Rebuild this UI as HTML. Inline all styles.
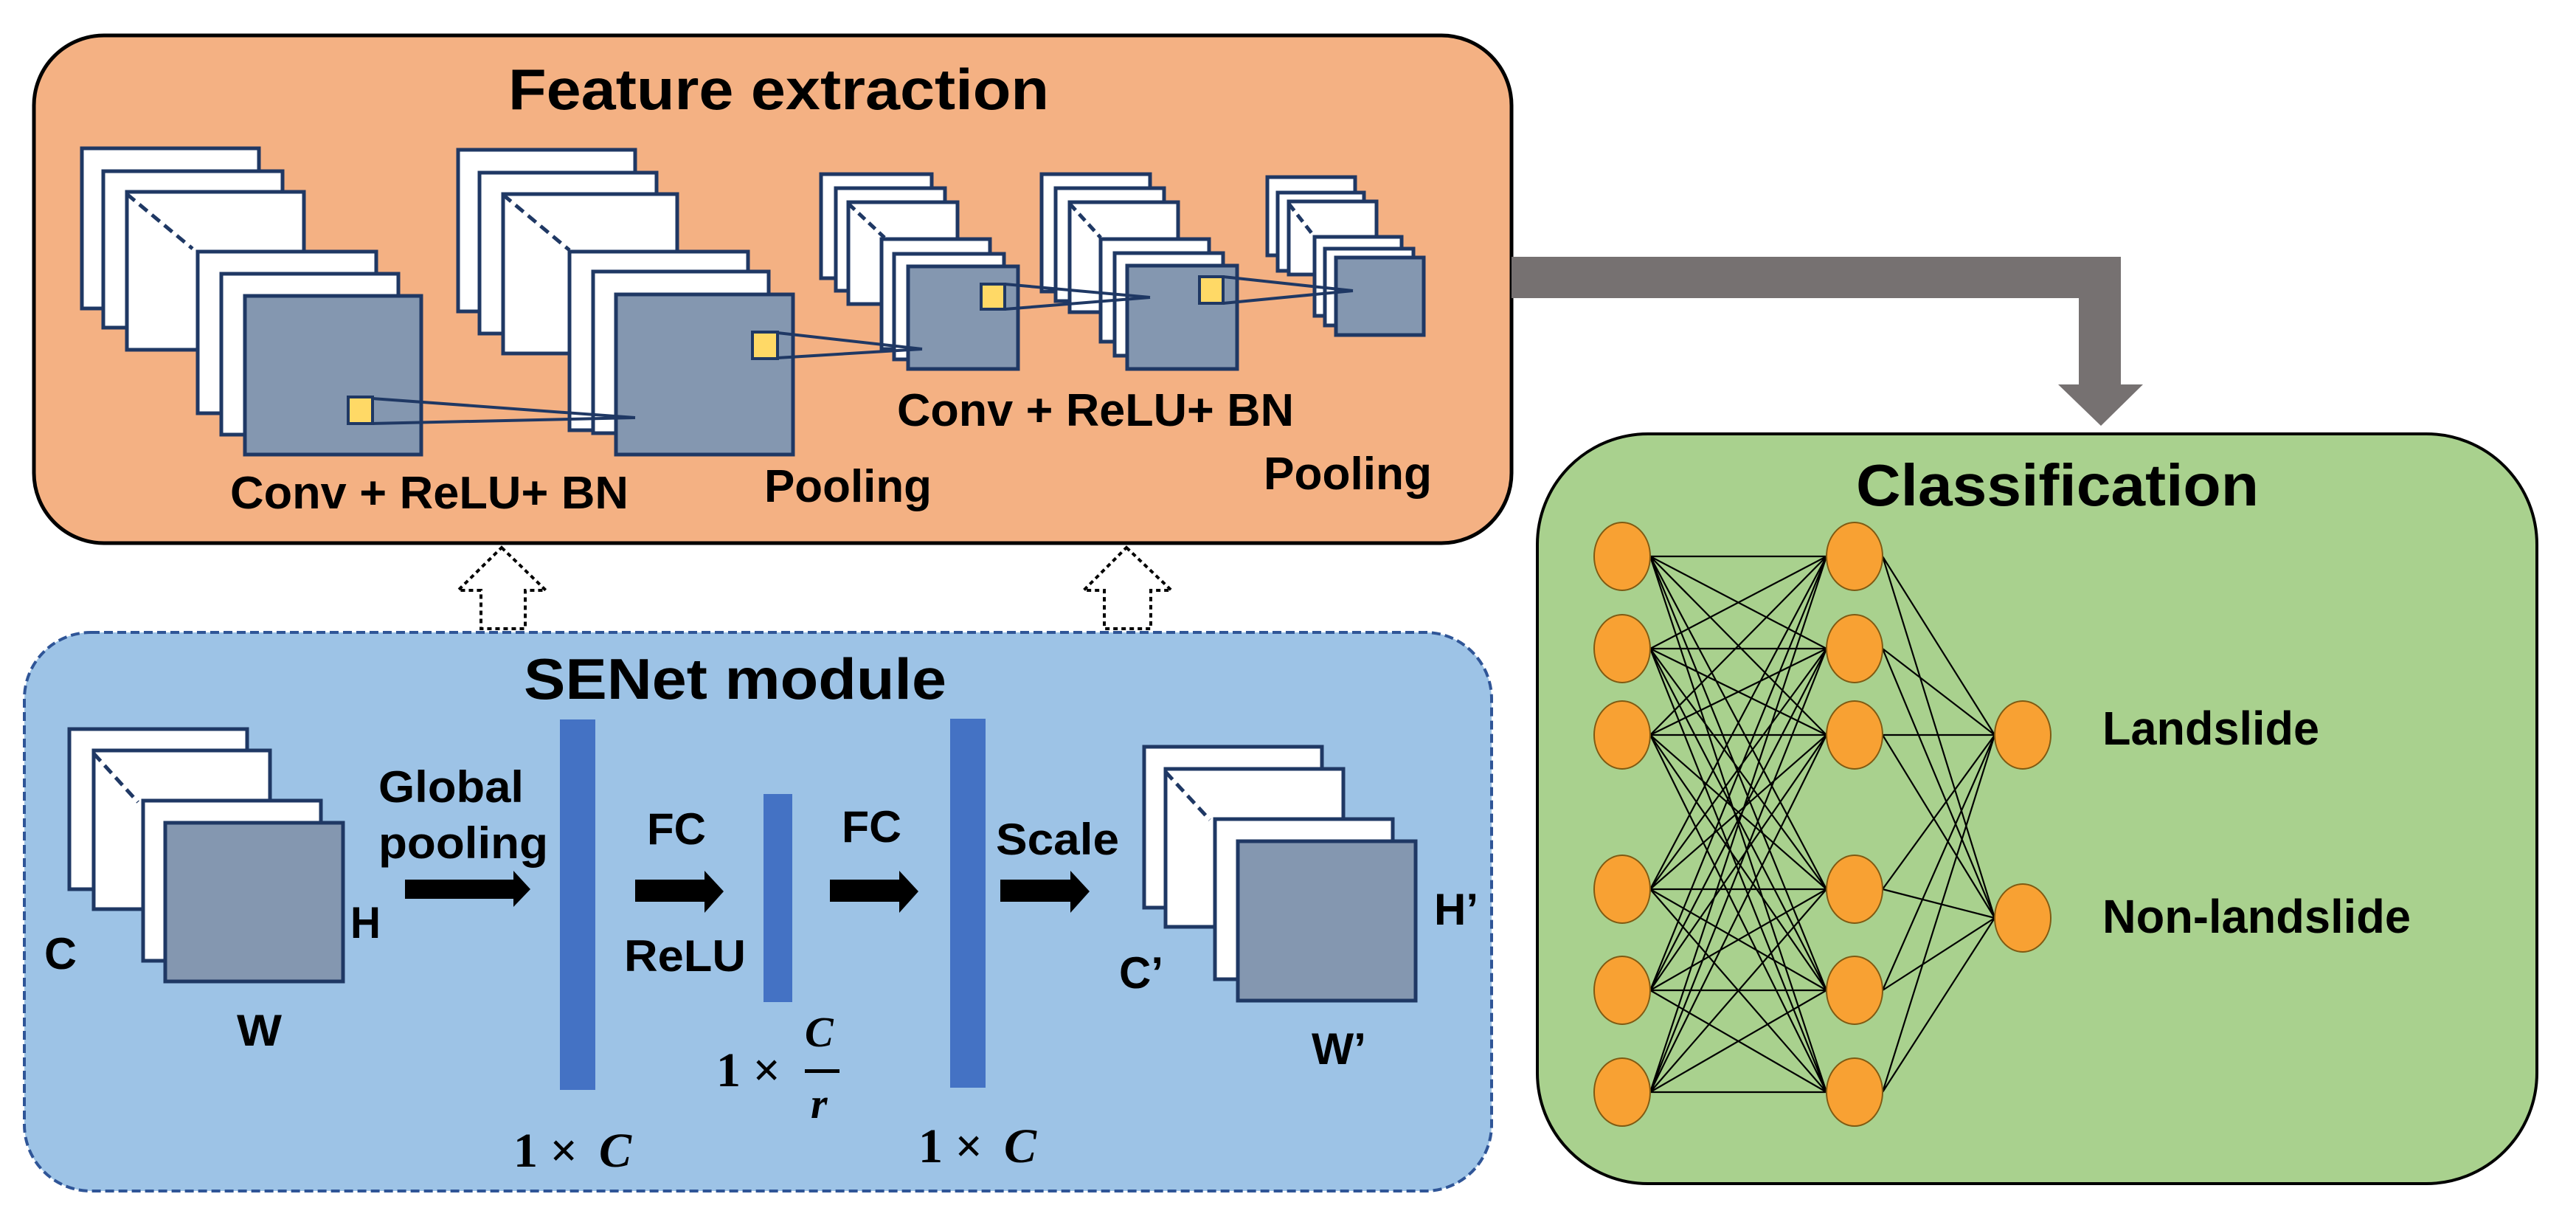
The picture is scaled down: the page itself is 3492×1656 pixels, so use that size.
<!DOCTYPE html>
<html><head><meta charset="utf-8"><style>
html,body{margin:0;padding:0;background:#fff;}
svg{display:block;}
text{font-family:"Liberation Sans",Arial,sans-serif;font-weight:bold;fill:#000;}
</style></head><body>
<svg width="3492" height="1656" viewBox="0 0 3492 1656" xmlns="http://www.w3.org/2000/svg">
<!-- Feature extraction box -->
<rect x="46" y="48" width="2003" height="688" rx="95" fill="#F4B183" stroke="#000" stroke-width="5"/>
<text x="689" y="148" font-size="78" textLength="733" lengthAdjust="spacingAndGlyphs">Feature extraction</text>

<g stroke="#1F3864" stroke-width="5" fill="#fff">
<rect x="111" y="201" width="240" height="217"/>
<rect x="140" y="232" width="243" height="212"/>
<rect x="172" y="260" width="240" height="214"/>
<line x1="172" y1="263" x2="261" y2="337" stroke-dasharray="14,8"/>
<rect x="268" y="341" width="242" height="219"/>
<rect x="300" y="371" width="240" height="218"/>
<rect x="332" y="401" width="239" height="215" fill="#8497B0"/>
<rect x="621" y="203" width="240" height="219"/>
<rect x="650" y="234" width="240" height="218"/>
<rect x="682" y="263" width="236" height="216"/>
<line x1="682" y1="264" x2="772" y2="339" stroke-dasharray="14,8"/>
<rect x="772" y="341" width="242" height="242"/>
<rect x="804" y="368" width="238" height="219"/>
<rect x="835" y="399" width="240" height="217" fill="#8497B0"/>
<rect x="1113" y="236" width="150" height="141"/>
<rect x="1133" y="255" width="148" height="139"/>
<rect x="1150" y="274" width="148" height="138"/>
<line x1="1150" y1="276" x2="1199" y2="322" stroke-dasharray="12,7"/>
<rect x="1195" y="324" width="147" height="149"/>
<rect x="1212" y="344" width="149" height="143"/>
<rect x="1231" y="361" width="149" height="139" fill="#8497B0"/>
<rect x="1412" y="236" width="147" height="159"/>
<rect x="1431" y="255" width="147" height="153"/>
<rect x="1450" y="274" width="147" height="149"/>
<line x1="1450" y1="276" x2="1492" y2="322" stroke-dasharray="12,7"/>
<rect x="1492" y="324" width="147" height="139"/>
<rect x="1511" y="343" width="147" height="139"/>
<rect x="1528" y="360" width="149" height="140" fill="#8497B0"/>
<rect x="1718" y="240" width="119" height="106"/>
<rect x="1732" y="261" width="117" height="106"/>
<rect x="1747" y="273" width="119" height="99"/>
<line x1="1747" y1="276" x2="1782" y2="321" stroke-dasharray="12,7"/>
<rect x="1782" y="321" width="118" height="107"/>
<rect x="1796" y="337" width="120" height="104"/>
<rect x="1811" y="349" width="119" height="105" fill="#8497B0"/>
</g>
<g stroke="#1F3864" stroke-width="4">
<line x1="505" y1="540" x2="861" y2="566"/><line x1="505" y1="574" x2="861" y2="566"/>
<line x1="1054" y1="451" x2="1250" y2="473"/><line x1="1054" y1="485" x2="1250" y2="473"/>
<line x1="1362" y1="385" x2="1559" y2="403"/><line x1="1362" y1="419" x2="1559" y2="403"/>
<line x1="1658" y1="375" x2="1834" y2="394"/><line x1="1658" y1="411" x2="1834" y2="394"/>
</g>
<g fill="#FFD966" stroke="#1F3864" stroke-width="4">
<rect x="472" y="538" width="33" height="36"/>
<rect x="1020" y="450" width="34" height="36"/>
<rect x="1330" y="385" width="32" height="34"/>
<rect x="1626" y="375" width="32" height="36"/>
</g>
<text x="312" y="689" font-size="62" textLength="540" lengthAdjust="spacingAndGlyphs">Conv + ReLU+ BN</text>
<text x="1036" y="680" font-size="62" textLength="227" lengthAdjust="spacingAndGlyphs">Pooling</text>
<text x="1216" y="577" font-size="62" textLength="538" lengthAdjust="spacingAndGlyphs">Conv + ReLU+ BN</text>
<text x="1713" y="663" font-size="62" textLength="228" lengthAdjust="spacingAndGlyphs">Pooling</text>

<g fill="#fff" stroke="#000" stroke-width="4" stroke-dasharray="6,5">
<polygon points="680,742 740,800 712,800 712,852 652,852 652,800 621,800"/>
<polygon points="1527,742 1588,800 1560,800 1560,852 1497,852 1497,800 1469,800"/>
</g>

<rect x="33" y="857" width="1989" height="757" rx="90" fill="#9DC3E6" stroke="#2F5597" stroke-width="4" stroke-dasharray="12,6"/>
<text x="710" y="947" font-size="78" textLength="573" lengthAdjust="spacingAndGlyphs">SENet module</text>
<g stroke="#1F3864" stroke-width="5" fill="#fff">
<rect x="94" y="988" width="241" height="217"/>
<rect x="127" y="1017" width="239" height="215"/>
<line x1="127" y1="1021" x2="187" y2="1087" stroke-dasharray="14,8"/>
<rect x="194" y="1085" width="241" height="217"/>
<rect x="224" y="1115" width="241" height="215" fill="#8497B0"/>
<rect x="1551" y="1012" width="241" height="218"/>
<rect x="1580" y="1042" width="241" height="214"/>
<line x1="1580" y1="1046" x2="1640" y2="1111" stroke-dasharray="14,8"/>
<rect x="1647" y="1110" width="241" height="217"/>
<rect x="1678" y="1140" width="241" height="216" fill="#8497B0"/>
</g>
<g font-size="60">
<text x="60" y="1313" textLength="44" lengthAdjust="spacingAndGlyphs">C</text>
<text x="475" y="1271" textLength="41" lengthAdjust="spacingAndGlyphs">H</text>
<text x="321" y="1417" textLength="61" lengthAdjust="spacingAndGlyphs">W</text>
<text x="513" y="1087" textLength="197" lengthAdjust="spacingAndGlyphs">Global</text>
<text x="513" y="1163" textLength="230" lengthAdjust="spacingAndGlyphs">pooling</text>
<text x="877" y="1144" textLength="80" lengthAdjust="spacingAndGlyphs">FC</text>
<text x="846" y="1316" textLength="165" lengthAdjust="spacingAndGlyphs">ReLU</text>
<text x="1141" y="1141" textLength="81" lengthAdjust="spacingAndGlyphs">FC</text>
<text x="1350" y="1158" textLength="167" lengthAdjust="spacingAndGlyphs">Scale</text>
<text x="1944" y="1253" textLength="60" lengthAdjust="spacingAndGlyphs">H’</text>
<text x="1517" y="1339" textLength="60" lengthAdjust="spacingAndGlyphs">C’</text>
<text x="1778" y="1442" textLength="74" lengthAdjust="spacingAndGlyphs">W’</text>
</g>
<g fill="#000">
<polygon points="549,1192 696,1192 696,1180 719,1205 696,1229 696,1218 549,1218"/>
<polygon points="861,1192 955,1192 955,1180 981,1208 955,1237 955,1222 861,1222"/>
<polygon points="1125,1192 1219,1192 1219,1180 1245,1208 1219,1237 1219,1222 1125,1222"/>
<polygon points="1356,1192 1451,1192 1451,1180 1477,1208 1451,1237 1451,1222 1356,1222"/>
</g>
<g fill="#4472C4">
<rect x="759" y="975" width="48" height="502"/>
<rect x="1035" y="1076" width="39" height="282"/>
<rect x="1288" y="974" width="48" height="500"/>
</g>
<g style="font-family:'Liberation Serif',serif;font-weight:bold" font-size="66">
<text x="696" y="1581" style="font-family:'Liberation Serif',serif;font-weight:bold">1 ×</text>
<text x="812" y="1581" style="font-family:'Liberation Serif',serif;font-weight:bold;font-style:italic">C</text>
<text x="1245" y="1575" style="font-family:'Liberation Serif',serif;font-weight:bold">1 ×</text>
<text x="1361" y="1575" style="font-family:'Liberation Serif',serif;font-weight:bold;font-style:italic">C</text>
<text x="971" y="1472" style="font-family:'Liberation Serif',serif;font-weight:bold">1 ×</text>
<text x="1091" y="1418" font-size="58" style="font-family:'Liberation Serif',serif;font-weight:bold;font-style:italic">C</text>
<text x="1099" y="1515" font-size="58" style="font-family:'Liberation Serif',serif;font-weight:bold;font-style:italic">r</text>
</g>
<rect x="1091" y="1449" width="47" height="5" fill="#000"/>

<polygon points="2049,348 2875,348 2875,521 2905,521 2848,577 2790,521 2818,521 2818,404 2049,404" fill="#767171"/>

<rect x="2084" y="588" width="1355" height="1016" rx="150" fill="#A9D18E" stroke="#000" stroke-width="4"/>
<text x="2516" y="685" font-size="80" textLength="546" lengthAdjust="spacingAndGlyphs">Classification</text>
<g stroke="#000" stroke-width="2.2" fill="none">
<path d="M2237 754L2476 754M2237 754L2476 879M2237 754L2476 996M2237 754L2476 1205M2237 754L2476 1342M2237 754L2476 1480
M2237 879L2476 754M2237 879L2476 879M2237 879L2476 996M2237 879L2476 1205M2237 879L2476 1342M2237 879L2476 1480
M2237 996L2476 754M2237 996L2476 879M2237 996L2476 996M2237 996L2476 1205M2237 996L2476 1342M2237 996L2476 1480
M2237 1205L2476 754M2237 1205L2476 879M2237 1205L2476 996M2237 1205L2476 1205M2237 1205L2476 1342M2237 1205L2476 1480
M2237 1342L2476 754M2237 1342L2476 879M2237 1342L2476 996M2237 1342L2476 1205M2237 1342L2476 1342M2237 1342L2476 1480
M2237 1480L2476 754M2237 1480L2476 879M2237 1480L2476 996M2237 1480L2476 1205M2237 1480L2476 1342M2237 1480L2476 1480
M2552 754L2704 996M2552 754L2704 1244M2552 879L2704 996M2552 879L2704 1244M2552 996L2704 996M2552 996L2704 1244
M2552 1205L2704 996M2552 1205L2704 1244M2552 1342L2704 996M2552 1342L2704 1244M2552 1480L2704 996M2552 1480L2704 1244"/>
</g>
<g fill="#F8A133" stroke="#7F5A12" stroke-width="2">
<ellipse cx="2199" cy="754" rx="38" ry="46"/><ellipse cx="2199" cy="879" rx="38" ry="46"/><ellipse cx="2199" cy="996" rx="38" ry="46"/>
<ellipse cx="2199" cy="1205" rx="38" ry="46"/><ellipse cx="2199" cy="1342" rx="38" ry="46"/><ellipse cx="2199" cy="1480" rx="38" ry="46"/>
<ellipse cx="2514" cy="754" rx="38" ry="46"/><ellipse cx="2514" cy="879" rx="38" ry="46"/><ellipse cx="2514" cy="996" rx="38" ry="46"/>
<ellipse cx="2514" cy="1205" rx="38" ry="46"/><ellipse cx="2514" cy="1342" rx="38" ry="46"/><ellipse cx="2514" cy="1480" rx="38" ry="46"/>
<ellipse cx="2742" cy="996" rx="38" ry="46"/><ellipse cx="2742" cy="1244" rx="38" ry="46"/>
</g>
<text x="2850" y="1009" font-size="64" textLength="294" lengthAdjust="spacingAndGlyphs">Landslide</text>
<text x="2850" y="1264" font-size="64" textLength="418" lengthAdjust="spacingAndGlyphs">Non-landslide</text>
</svg>
</body></html>
